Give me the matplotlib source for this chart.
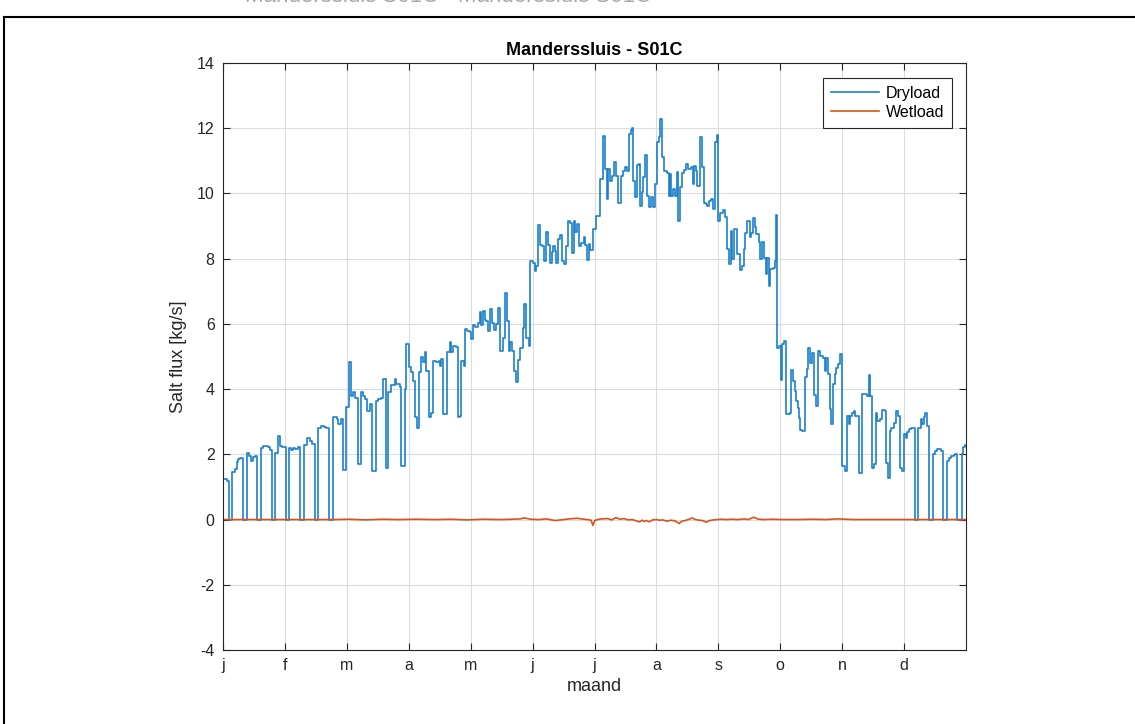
import numpy as np
import matplotlib.pyplot as plt
from matplotlib.lines import Line2D

plt.rcParams['font.family'] = ['Liberation Sans', 'DejaVu Sans']
plt.rcParams['axes.unicode_minus'] = False

# month tick labels (Dutch)
month_labels = ['j', 'f', 'm', 'a', 'm', 'j', 'j', 'a', 's', 'o', 'n', 'd']

# Dryload: day of year where a new value starts, and that value [kg/s]
dry_day = [
    0.0, 2.1, 2.9, 4.6, 5.9, 6.7, 7.5, 8.4, 9.7, 11.6, 12.8, 13.8, 14.9, 15.7,
    16.9, 18.5, 19.8, 22.3, 23.1, 23.9, 25.7, 27.2, 28.0, 28.8, 30.8, 32.4,
    33.4, 34.2, 35.4, 36.7, 37.8, 40.0, 41.3, 42.6, 43.7, 45.4, 46.7, 48.1,
    49.8, 50.8, 52.1, 53.9, 55.9, 56.7, 57.8, 58.8, 60.3, 61.9, 62.9, 63.9,
    64.7, 66.3, 68.0, 68.8, 69.9, 70.9, 72.1, 73.2, 75.0, 76.1, 77.8, 78.6,
    79.9, 81.1, 82.7, 84.4, 85.2, 86.0, 86.8, 87.6, 89.3, 90.1, 91.2, 92.5,
    93.3, 94.2, 95.3, 96.1, 97.1, 98.3, 99.1, 99.9, 101.2, 102.3, 103.2,
    104.8, 106.0, 106.5, 107.3, 108.1, 110.2, 111.4, 112.2, 113.0, 114.6,
    115.5, 116.6, 117.1, 118.2, 119.0, 120.0, 121.2, 122.0, 122.8, 124.0,
    125.1, 126.1, 126.9, 127.7, 128.6, 129.4, 130.2, 131.0, 132.2, 133.0,
    134.1, 135.1, 136.2, 137.4, 138.4, 139.5, 140.4, 141.2, 142.0, 142.8,
    144.0, 144.9, 146.1, 147.2, 148.1, 149.0, 150.2, 151.0, 152.1, 153.1,
    153.9, 154.6, 155.6, 156.7, 157.6, 158.5, 159.5, 160.5, 161.5, 162.1,
    163.0, 163.8, 164.4, 165.4, 166.6, 167.7, 168.5, 169.5, 170.6, 171.6,
    172.3, 173.1, 173.9, 174.9, 175.9, 177.2, 178.0, 178.8, 179.7, 180.5,
    181.6, 183.3, 185.2, 186.5, 187.7, 188.5, 189.3, 190.1, 191.1, 192.1,
    193.1, 194.2, 195.4, 196.4, 197.5, 198.6, 199.5, 200.3, 201.1, 201.6,
    202.4, 203.3, 204.2, 204.9, 205.7, 206.5, 207.3, 208.5, 209.3, 210.3,
    211.4, 212.2, 213.1, 214.1, 214.7, 215.5, 216.7, 218.0, 219.0, 219.6,
    220.1, 221.2, 222.2, 222.9, 223.7, 224.5, 225.5, 226.5, 227.5, 228.6,
    229.8, 230.8, 231.6, 232.4, 233.0, 234.4, 235.2, 236.3, 237.2, 237.9,
    238.9, 239.8, 240.9, 241.7, 242.5, 243.3, 244.3, 245.7, 246.8, 247.6,
    248.6, 249.4, 250.2, 251.1, 252.5, 253.9, 255.0, 255.8, 256.6, 257.6,
    258.8, 259.6, 260.4, 261.2, 262.0, 263.2, 264.0, 265.0, 265.7, 266.6,
    267.3, 268.1, 268.9, 270.2, 271.0, 271.8, 272.3, 273.2, 274.0, 274.6,
    275.5, 276.8, 278.4, 278.9, 280.0, 280.9, 281.7, 282.5, 283.0, 283.6,
    284.6, 285.9, 286.8, 287.6, 288.6, 289.4, 290.4, 291.5, 292.5, 293.5,
    294.8, 295.6, 296.4, 297.2, 298.1, 298.9, 299.7, 300.5, 301.3, 302.2,
    303.3, 304.3, 305.4, 306.6, 307.4, 308.2, 309.0, 309.9, 310.7, 312.3,
    313.9, 316.5, 317.2, 318.0, 318.9, 319.8, 320.7, 321.5, 322.6, 323.9,
    325.1, 325.9, 326.7, 327.5, 328.3, 329.7, 330.8, 331.6, 332.6, 333.7,
    334.4, 335.4, 336.2, 337.0, 337.9, 339.8, 341.5, 342.8, 343.6, 344.4,
    345.1, 345.9, 346.7, 348.8, 349.6, 350.8, 352.1, 352.9, 353.9, 355.7,
    356.7, 357.8, 359.0, 359.8, 360.8, 362.8, 363.3, 364.4, 365.0,
]
dry_val = [
    1.24, 1.18, 0, 1.47, 1.55, 1.78, 1.86, 1.88, 0, 2.03, 1.96, 1.80, 1.92, 1.96,
    0, 2.19, 2.26, 2.24, 2.14, 0, 2.05, 2.56, 2.27, 2.22, 0, 2.18,
    2.13, 2.20, 2.15, 2.24, 0, 2.29, 2.49, 2.41, 2.33, 0, 2.80, 2.88,
    2.85, 2.80, 0, 3.16, 3.08, 2.92, 3.08, 1.52, 3.44, 4.82, 3.79, 3.90,
    3.74, 1.69, 3.90, 3.79, 3.69, 3.33, 3.54, 1.49, 3.64, 3.69, 3.72, 4.31,
    1.59, 3.90, 4.13, 4.31, 4.15, 4.17, 4.05, 1.64, 4.00, 5.38, 4.67, 4.51,
    4.26, 3.13, 2.82, 4.51, 4.97, 4.82, 5.13, 4.56, 3.13, 3.28, 4.87,
    4.82, 4.87, 4.72, 4.92, 3.23, 5.13, 5.44, 5.13, 5.33, 5.28,
    3.13, 3.18, 4.87, 4.72, 5.85, 5.79, 5.74, 5.54, 5.98, 5.89,
    6.03, 6.35, 5.98, 6.39, 6.13, 6.08, 5.77, 6.46, 6.03, 5.82,
    6.00, 6.49, 5.18, 5.57, 6.95, 6.08, 5.18, 5.43, 5.18, 4.54,
    4.21, 4.90, 5.26, 5.87, 6.61, 5.57, 5.31, 7.94, 7.87, 7.61,
    7.77, 9.02, 8.43, 8.38, 7.92, 8.82, 8.43, 7.87, 8.21, 8.40,
    8.23, 7.87, 8.59, 8.72, 7.92, 7.84, 8.38, 9.17, 9.10, 8.18,
    9.15, 8.82, 9.05, 8.38, 8.49, 8.66, 8.43, 7.97, 8.45, 8.28,
    8.90, 9.31, 10.44, 11.75, 10.75, 9.83, 10.75, 10.39, 10.54, 10.97,
    10.54, 9.72, 10.54, 10.70, 10.80, 10.70, 11.83, 11.93, 12.00, 10.39,
    9.90, 10.87, 10.90, 9.62, 10.03, 10.50, 11.19, 9.93, 9.57, 9.90,
    9.57, 10.29, 11.57, 11.72, 12.29, 11.11, 10.70, 10.62, 9.93, 10.60,
    9.93, 10.13, 9.93, 10.65, 9.16, 10.20, 10.64, 10.72, 10.90, 10.75,
    10.82, 10.29, 10.85, 10.70, 10.24, 11.72, 10.80, 9.72, 9.67, 9.62,
    9.77, 9.82, 9.52, 11.58, 11.80, 9.16, 9.41, 9.49, 9.27, 8.29,
    7.83, 8.85, 7.98, 8.90, 8.14, 7.65, 7.78, 8.29, 8.80, 9.16,
    8.67, 8.80, 9.26, 8.96, 8.76, 8.50, 7.98, 8.50, 8.03, 7.52,
    8.03, 7.16, 7.67, 7.72, 7.93, 9.33, 5.27, 5.32, 4.27, 5.37,
    5.46, 3.24, 3.27, 4.60, 4.24, 3.94, 3.63, 3.43, 3.12, 2.76,
    2.71, 4.38, 4.63, 5.27, 4.81, 5.12, 3.83, 3.48, 5.17, 5.01,
    4.96, 4.55, 4.96, 4.45, 3.38, 2.92, 4.15, 4.45, 4.66, 4.76,
    5.07, 1.64, 1.49, 3.18, 2.92, 3.18, 3.28, 3.33, 3.18, 1.44,
    3.85, 3.80, 4.44, 3.80, 1.59, 1.69, 3.28, 3.03, 3.08, 3.36,
    3.33, 1.74, 1.28, 2.72, 2.82, 2.97, 3.33, 3.18, 1.59, 1.49,
    2.62, 2.51, 2.67, 2.77, 2.82, 0, 2.82, 3.08, 2.92, 3.13,
    3.28, 2.87, 0, 2.00, 2.10, 2.17, 2.15, 2.10, 0, 1.80,
    1.88, 1.95, 1.98, 2.00, 0, 2.00, 2.22, 2.30, 2.30,
]

# Wetload: nearly zero, small wiggles in summer
wet_day = [0, 55, 62, 70, 78, 86, 95, 104, 112, 120, 128, 136, 142, 146, 148,
           151, 155, 159, 163, 166, 170, 174, 177, 179, 180.8, 181.7, 182.6,
           184, 186, 189, 191, 193, 195, 197, 199, 201, 203, 204.5, 206, 207,
           208, 209.5, 211, 213, 214.5, 216, 218, 220, 222, 224, 225.5, 227,
           229, 230.6, 232, 234, 235.5, 237.3, 239, 241, 243, 245, 247, 250,
           253, 256, 258, 260.7, 263, 266, 270, 275, 282, 290, 296, 302, 310,
           320, 335, 365]
wet_val = [0, 0, 0.01, -0.01, 0.01, 0.0, 0.01, 0.0, 0.01, -0.01, 0.01, 0.0, 0.01,
           0.02, 0.05, 0.01, 0.0, 0.02, -0.03, -0.01, 0.02, 0.04, 0.01, 0.0, -0.02,
           -0.18, -0.03, 0.0, 0.02, 0.03, -0.01, 0.06, 0.01, 0.03, -0.01, 0.0,
           -0.04, -0.07, -0.02, -0.06, -0.03, -0.07, -0.01, 0.0, -0.02, -0.01,
           -0.05, -0.02, -0.04, -0.12, -0.05, -0.03, 0.01, 0.05, 0.0, -0.02,
           -0.03, -0.08, -0.03, -0.01, 0.0, 0.01, 0.0, 0.01, 0.0, 0.02, 0.0,
           0.07, 0.01, 0.0, 0.01, 0.0, 0.0, 0.01, 0.0, 0.02, 0.0, 0.0, 0.0, 0.0]

fig = plt.figure(figsize=(11.35, 7.24), dpi=100)
fig.set_facecolor('#FFFFFF')
ax = fig.add_axes([0.1965, 0.1022, 0.6546, 0.8108])

ax.plot(dry_day, dry_val, drawstyle='steps-post', color='#1a80cc', lw=1.2, label='Dryload')
ax.plot(wet_day, wet_val, color='#D95319', lw=1.2, label='Wetload')

# Axes, MATLAB look
ax.set_xlim(0, 365)
ax.set_ylim(-4, 14)
ax.set_yticks(np.arange(-4, 15, 2))
ax.set_xticks(np.arange(12) * 365 / 12)
ax.set_xticklabels(month_labels)
ax.grid(True, color='#dcdcdc', lw=0.8)
ax.set_axisbelow(True)
ax.tick_params(direction='in', length=5, top=True, right=True,
               labelsize=11.5, colors='#262626', pad=6)
for s in ax.spines.values():
    s.set_color('#262626')
    s.set_linewidth(0.8)

ax.set_title('Manderssluis - S01C', fontsize=13, fontweight='bold', color='#000000', pad=6)
ax.set_xlabel('maand', fontsize=13, color='#262626', labelpad=3)
ax.set_ylabel('Salt flux [kg/s]', fontsize=13, color='#262626', labelpad=7)

# Legend
leg = ax.legend(loc='upper right', fontsize=11.5, fancybox=False, framealpha=1,
                edgecolor='#262626', handlelength=3.0, handletextpad=0.4,
                borderpad=0.5, labelspacing=0.25, borderaxespad=0,
                bbox_to_anchor=(0.9812, 0.9744))
leg.get_frame().set_linewidth(0.8)

# Page frame around the figure and cut-off page text above it
fig.add_artist(Line2D([4 / 1135, 1.0], [1 - 17 / 724, 1 - 17 / 724], color='black', lw=1.5))
fig.add_artist(Line2D([4 / 1135, 4 / 1135], [0.0, 1 - 17 / 724], color='black', lw=1.5))
fig.text(245 / 1135, 1 - 2 / 724, 'Manderssluis S01C - Manderssluis S01C', fontsize=16,
         color='#a8a8a8', ha='left', va='baseline')

fig.savefig('out.png', dpi=100)
